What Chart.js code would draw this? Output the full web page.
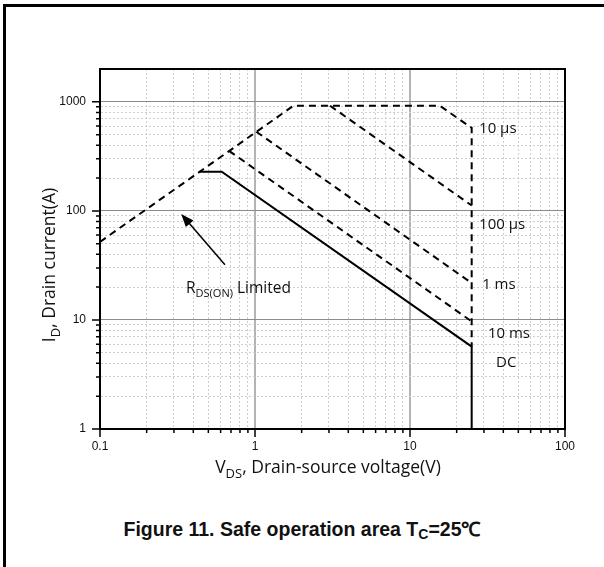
<!DOCTYPE html>
<html>
<head>
<meta charset="utf-8">
<script src="https://cdn.jsdelivr.net/npm/chart.js@4.4.0/dist/chart.umd.min.js"></script>
<style>
  html, body { margin: 0; padding: 0; background: #fff; }
  #page { position: relative; width: 604px; height: 567px; overflow: hidden; }
  #frame { position: absolute; left: 3px; top: 4px; right: 0; bottom: 0; border-top: 3px solid #000; border-left: 3px solid #000; }
  #soa { position: absolute; left: 0; top: 0; }
  #caption { position: absolute; left: 0; width: 604px; top: 515px; text-align: center; color: #111;
             font: bold 19.5px "Liberation Sans", Arial, sans-serif; }
  #caption sub { font-size: 14px; vertical-align: -3px; line-height: 0; }
</style>
</head>
<body>
<div id="page">
  <div id="frame"></div>
  <canvas id="soa" width="604" height="490"></canvas>
  <div id="caption">Figure 11. Safe operation area T<sub>C</sub>=25℃</div>
</div>
<script>
// SOA curves (V, A)
const voltsLimit = [0.1, 1.77, 15.6, 25, 25];
const ampsLimit  = [52, 920, 920, 577, 5.7];
const volts100us = [3.05, 25];
const amps100us  = [920, 112];
const volts1ms   = [1.02, 25];
const amps1ms    = [532, 21.8];
const volts10ms  = [0.68, 25];
const amps10ms   = [355, 9.7];
const voltsDC    = [0.44, 0.61, 25, 25];
const ampsDC     = [229, 229, 5.7, 1];

const curveNames = ['10 µs', '100 µs', '1 ms', '10 ms', 'DC'];
const nameVolts  = [27.9, 27.9, 29.2, 31.8, 35.9];
const nameAmps   = [565, 74.4, 21, 7.55, 4.09];

const xTicks = [0.1, 1, 10, 100];
const yTicks = [1, 10, 100, 1000];

const pts = (xs, ys) => xs.map((x, i) => ({ x: x, y: ys[i] }));

const logTicks = (majors) => {
  const out = [];
  majors.forEach((m, i) => {
    out.push({ value: m, major: true });
    if (i < majors.length - 1) {
      for (let k = 2; k <= 9; k++) out.push({ value: m * k, major: false });
    }
  });
  return out;
};

const uiFont = '"Open Sans", "Noto Sans", sans-serif';
const tickFont = { family: '"Liberation Sans", Arial, sans-serif', size: 12 };

// text with subscript parts: parts = [[text, isSub], ...]
const richText = (ctx, parts, x, y, size, align) => {
  const subSize = Math.round(size * 0.72);
  const widths = parts.map(p => {
    ctx.font = (p[1] ? subSize : size) + 'px ' + uiFont;
    return ctx.measureText(p[0]).width;
  });
  const total = widths.reduce((a, b) => a + b, 0);
  let cx = align === 'center' ? x - total / 2 : x;
  parts.forEach((p, i) => {
    ctx.font = (p[1] ? subSize : size) + 'px ' + uiFont;
    ctx.fillText(p[0], cx, p[1] ? y + size * 0.27 : y);
    cx += widths[i];
  });
};

const extras = {
  id: 'extras',
  afterDraw(chart) {
    const { ctx, chartArea: a, scales: { x, y } } = chart;
    ctx.save();
    ctx.strokeStyle = '#000';
    ctx.fillStyle = '#111';

    // frame top/right
    ctx.lineWidth = 2;
    ctx.beginPath();
    ctx.moveTo(a.left, a.top); ctx.lineTo(a.right, a.top); ctx.lineTo(a.right, a.bottom);
    ctx.stroke();

    // outward ticks
    ctx.lineWidth = 1.5;
    ctx.beginPath();
    x.ticks.forEach(t => {
      const px = x.getPixelForValue(t.value);
      ctx.moveTo(px, a.bottom); ctx.lineTo(px, a.bottom + (t.major ? 8 : 4));
    });
    y.ticks.forEach(t => {
      const py = y.getPixelForValue(t.value);
      ctx.moveTo(a.left, py); ctx.lineTo(a.left - (t.major ? 8 : 4), py);
    });
    ctx.stroke();

    // arrow to the RDS(on) line
    const x1 = x.getPixelForValue(0.64), y1 = y.getPixelForValue(32);
    const x2 = x.getPixelForValue(0.334), y2 = y.getPixelForValue(93.8);
    const ang = Math.atan2(y2 - y1, x2 - x1);
    ctx.lineWidth = 1.5;
    ctx.beginPath();
    ctx.moveTo(x1, y1);
    ctx.lineTo(x2 - 10 * Math.cos(ang), y2 - 10 * Math.sin(ang));
    ctx.stroke();
    ctx.beginPath();
    ctx.moveTo(x2, y2);
    ctx.lineTo(x2 - 13 * Math.cos(ang) + 5 * Math.sin(ang), y2 - 13 * Math.sin(ang) - 5 * Math.cos(ang));
    ctx.lineTo(x2 - 13 * Math.cos(ang) - 5 * Math.sin(ang), y2 - 13 * Math.sin(ang) + 5 * Math.cos(ang));
    ctx.closePath();
    ctx.fillStyle = '#000';
    ctx.fill();

    // curve names
    ctx.fillStyle = '#111';
    ctx.textBaseline = 'middle';
    ctx.textAlign = 'left';
    ctx.font = '15px ' + uiFont;
    curveNames.forEach((n, i) => {
      ctx.fillText(n, x.getPixelForValue(nameVolts[i]), y.getPixelForValue(nameAmps[i]));
    });

    ctx.textBaseline = 'alphabetic';
    richText(ctx, [['R'], ['DS(ON)', true], [' Limited']],
      x.getPixelForValue(0.359), y.getPixelForValue(20.1) + 6, 15.5, 'left');

    // axis titles
    richText(ctx, [['V'], ['DS', true], [', Drain-source voltage(V)']], 328, 473, 17.5, 'center');
    ctx.translate(55, 265);
    ctx.rotate(-Math.PI / 2);
    richText(ctx, [['I'], ['D', true], [', Drain current(A)']], 0, 0, 17.5, 'center');
    ctx.restore();
  }
};

const curve = (xs, ys, dashed) => ({
  data: pts(xs, ys),
  showLine: true,
  borderColor: '#000',
  borderWidth: 2,
  borderDash: dashed ? [7, 5] : [],
  pointRadius: 0,
  tension: 0
});

new Chart(document.getElementById('soa'), {
  type: 'scatter',
  data: {
    datasets: [
      curve(voltsLimit, ampsLimit, true),
      curve(volts100us, amps100us, true),
      curve(volts1ms, amps1ms, true),
      curve(volts10ms, amps10ms, true),
      curve(voltsDC, ampsDC, false)
    ]
  },
  options: {
    responsive: false,
    animation: false,
    layout: { padding: { left: 0, right: 39, top: 69, bottom: 31 } },
    plugins: { legend: { display: false }, tooltip: { enabled: false } },
    scales: {
      x: {
        type: 'logarithmic',
        min: 0.1,
        max: 100,
        afterBuildTicks: axis => { axis.ticks = logTicks(xTicks); },
        afterFit: s => { s.height = 30; },
        ticks: {
          autoSkip: false,
          maxRotation: 0,
          padding: 10,
          color: '#111',
          font: tickFont,
          callback: v => xTicks.includes(v) ? String(v) : ''
        },
        grid: {
          drawTicks: false,
          color: c => c.tick && c.tick.major ? '#b4b4b4' : '#cfcfcf',
          lineWidth: c => c.tick && c.tick.major ? 2 : 1
        },
        border: {
          color: '#000',
          width: 2,
          dash: c => c.tick && !c.tick.major ? [2, 2] : []
        }
      },
      y: {
        type: 'logarithmic',
        min: 1,
        max: 2000,
        afterBuildTicks: axis => { axis.ticks = logTicks(yTicks); },
        afterFit: s => { s.width = 100; },
        ticks: {
          autoSkip: false,
          padding: 14,
          color: '#111',
          font: tickFont,
          callback: v => yTicks.includes(v) ? String(v) : ''
        },
        grid: {
          drawTicks: false,
          color: c => c.tick && c.tick.major ? '#8c8c8c' : '#cfcfcf',
          lineWidth: 1
        },
        border: {
          color: '#000',
          width: 2,
          dash: c => c.tick && !c.tick.major ? [2, 2] : []
        }
      }
    }
  },
  plugins: [extras]
});
</script>
</body>
</html>
